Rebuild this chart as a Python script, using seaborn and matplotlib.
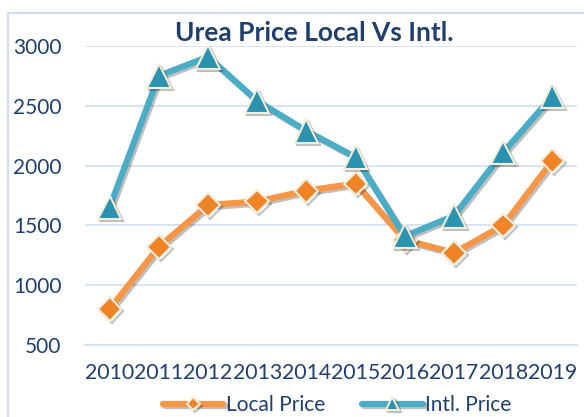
import matplotlib
matplotlib.use("Agg")
import matplotlib.pyplot as plt
import matplotlib.patheffects as pe
from matplotlib.patches import Rectangle
import pandas as pd
import seaborn as sns

# chart data
years = ["2010", "2011", "2012", "2013", "2014", "2015", "2016", "2017", "2018", "2019"]
local_price = [800, 1320, 1670, 1700, 1790, 1850, 1380, 1270, 1500, 2040]
intl_price = [1650, 2750, 2910, 2540, 2290, 2070, 1410, 1580, 2110, 2580]

df = pd.DataFrame({"year": years, "local": local_price, "intl": intl_price})

sns.set_style("white")
plt.rcParams["font.family"] = ["Lato", "DejaVu Sans"]

text_col = "#1F3F6E"
grid_col = "#D5E1F0"

fig = plt.figure(figsize=(5.84, 4.17), dpi=100)
ax = fig.add_axes([85 / 584, 72 / 417, 492 / 584, 299 / 417])

shadow = [pe.SimpleLineShadow(offset=(1.5, -1.5), alpha=0.25), pe.Normal()]

sns.lineplot(data=df, x="year", y="local", ax=ax, color="#F79646", lw=4.5,
             marker="D", markersize=12, markerfacecolor="#EE8426",
             markeredgecolor="#F2EEDC", markeredgewidth=1.5,
             label="Local Price", zorder=3, path_effects=shadow)
sns.lineplot(data=df, x="year", y="intl", ax=ax, color="#4BACC6", lw=4.5,
             marker="^", markersize=17, markerfacecolor="#2B93B0",
             markeredgecolor="#F2EEDC", markeredgewidth=1.5,
             label="Intl. Price", zorder=4, path_effects=shadow)

ax.set_ylim(500, 3000)
ax.set_xlim(-0.5, 9.5)
ax.set_yticks([500, 1000, 1500, 2000, 2500, 3000])
ax.set_xlabel("")
ax.set_ylabel("")
ax.grid(axis="y", color=grid_col, lw=1.3)
ax.set_axisbelow(True)
for s in ["top", "right", "left"]:
    ax.spines[s].set_visible(False)
ax.spines["bottom"].set_color(grid_col)
ax.spines["bottom"].set_linewidth(1.3)

ax.set_xticks([i - 0.5 for i in range(11)], minor=True)
ax.tick_params(axis="x", which="minor", length=6, width=1.3, color=grid_col, direction="out")
ax.tick_params(axis="x", which="major", length=0, labelsize=15.3, labelcolor=text_col, pad=13)
ax.tick_params(axis="y", length=0, labelsize=15, labelcolor=text_col, pad=17)
ax.get_legend().remove()

# chart border
fig.patches.append(Rectangle((8 / 584, -0.2), 1.2, 1.2 - 13 / 417, transform=fig.transFigure,
                             fill=False, edgecolor="#C5D7EC", lw=1.2, zorder=0))

fig.text(314 / 584, 1 - 33 / 417, "Urea Price Local Vs Intl.", ha="center", va="center",
         fontsize=19, fontweight="bold", color=text_col)

handles, labels = ax.get_legend_handles_labels()
fig.legend(handles, labels, loc="center", bbox_to_anchor=(337 / 584, 1 - 405 / 417), ncol=2,
           frameon=False, fontsize=15, labelcolor=text_col, handlelength=2.9,
           handletextpad=0.1, columnspacing=1.8, markerscale=0.55)

fig.savefig("out.png", dpi=100)
